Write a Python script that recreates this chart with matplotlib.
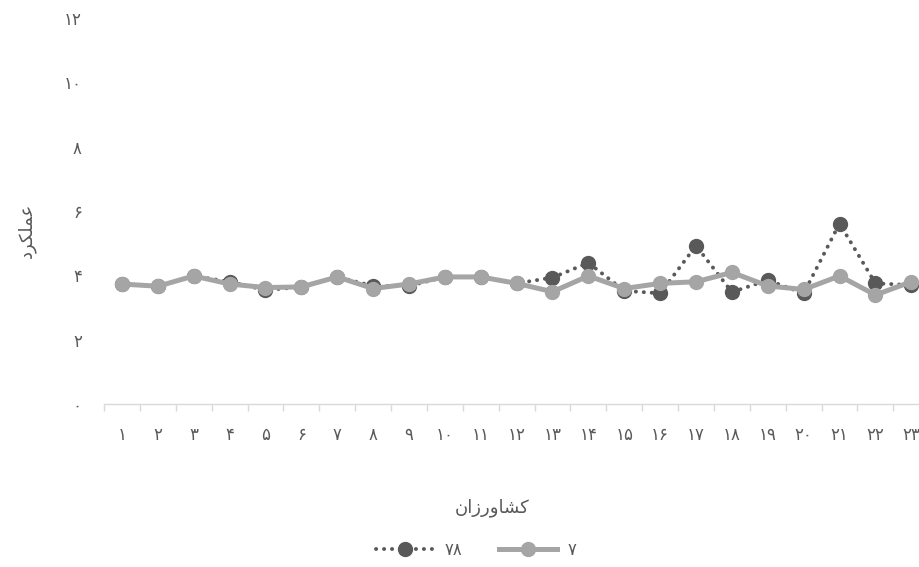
import matplotlib
matplotlib.use("Agg")
import matplotlib.pyplot as plt
from matplotlib.lines import Line2D
import numpy as np

plt.rcParams['font.family'] = ['DejaVu Sans']

# Persian digit helper
PD = str.maketrans("0123456789", "۰۱۲۳۴۵۶۷۸۹")
def fa(n):
    return str(n).translate(PD)

categories = [fa(i) for i in range(1, 24)]
series_78 = [3.73, 3.66, 3.98, 3.80, 3.54, 3.64, 3.95, 3.67, 3.67, 3.95, 3.95, 3.75,
             3.93, 4.39, 3.52, 3.44, 4.92, 3.48, 3.85, 3.44, 5.61, 3.75, 3.70]
series_7 = [3.73, 3.66, 3.98, 3.73, 3.62, 3.64, 3.95, 3.59, 3.73, 3.95, 3.95, 3.75,
            3.49, 3.98, 3.59, 3.75, 3.80, 4.09, 3.67, 3.56, 3.98, 3.39, 3.80]
yticks = [0, 2, 4, 6, 8, 10, 12]
label_78 = "۷۸"
label_7 = "۷"
# pre-shaped (visual order) Persian titles
xtitle = "\uFEE5\uFE8D\uFEAF\uFEAD\uFEED\uFE8E\uFEB8\uFB90"   # کشاورزان
ytitle = "\uFEA9\uFEAE\uFB91\uFEE0\uFEE4\uFECB"               # عملکرد

dark = "#595959"
gray = "#A5A5A5"
txt = "#595959"

step = 35.88
fig = plt.figure(figsize=(9.2, 5.67), dpi=100)
ax = fig.add_axes([104/920, (567-404)/567, 23*step/920, (404-18)/567])

dot_style = (0, (0.05, 2.0))
x = np.arange(len(categories))
ax.plot(x, series_78, color=dark, lw=2.8, ls=dot_style, dash_capstyle='round',
        marker='o', ms=10, mfc=dark, mec=dark, zorder=2)
ax.plot(x, series_7, color=gray, lw=3.6, marker='o', ms=10, mfc=gray, mec=gray,
        solid_capstyle='round', zorder=3)

ax.set_xlim(-0.5, len(categories) - 0.5)
ax.set_ylim(0, 12)
ax.set_yticks(yticks)
ax.set_yticklabels([fa(v) for v in yticks])
ax.set_xticks(x)
ax.set_xticklabels(categories)
ax.set_xticks(np.arange(-0.5, len(categories)), minor=True)
ax.tick_params(axis='x', which='major', length=0, pad=16, labelsize=12, labelcolor=txt)
ax.tick_params(axis='x', which='minor', length=5, color="#D9D9D9", width=1)
ax.tick_params(axis='y', length=0, pad=16, labelsize=12, labelcolor=txt)
for s in ['top', 'right', 'left']:
    ax.spines[s].set_visible(False)
ax.spines['bottom'].set_color("#D9D9D9")
ax.spines['bottom'].set_linewidth(1)

fig.text(492/920, 1 - 508/567, xtitle, ha='center', va='center', fontsize=13, color=txt)
fig.text(27/920, 1 - 230/567, ytitle, ha='center', va='center', fontsize=13, color=txt,
         rotation=90)

handles = [
    Line2D([], [], color=dark, lw=2.8, ls=dot_style, dash_capstyle='round',
           marker='o', ms=10, mfc=dark, mec=dark),
    Line2D([], [], color=gray, lw=3.6, marker='o', ms=10, mfc=gray, mec=gray),
]
fig.legend(handles, [label_78, label_7], loc='center', bbox_to_anchor=(476/920, 1 - 550/567),
           ncol=2, frameon=False, fontsize=12, labelcolor=txt, handlelength=3.5,
           columnspacing=2.2, handletextpad=0.6)

fig.savefig("out.png", dpi=100)
